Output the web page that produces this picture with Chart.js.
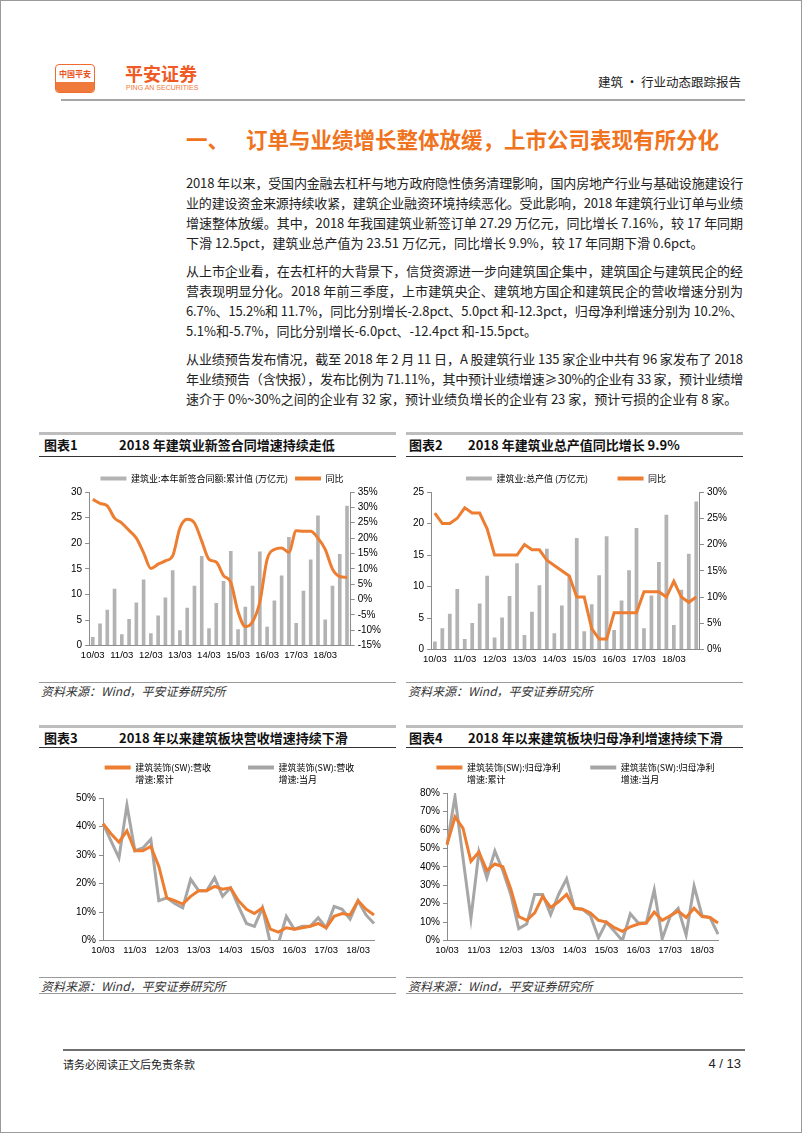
<!DOCTYPE html>
<html lang="zh-CN">
<head>
<meta charset="utf-8">
<title>建筑·行业动态跟踪报告</title>
<script src="https://cdn.jsdelivr.net/npm/chart.js@4.4.1/dist/chart.umd.min.js"></script>
<style>
  html, body { margin: 0; padding: 0; background: #fff; }
  body { font-family: "Noto Sans CJK SC", sans-serif; color: #222; }
  #page { position: relative; width: 802px; height: 1133px; box-sizing: border-box; border: 1px solid #9a9a9a; overflow: hidden; }
  .abs { position: absolute; }
  .para { position: absolute; left: 185px; width: 557px; font-size: 13px; line-height: 20px; color: #222; }
  .ln { height: 20px; white-space: nowrap; }
  .fig-top { position: absolute; height: 3px; background: #bdbdbd; }
  .fig-bot { position: absolute; height: 1px; background: #333; }
  .fig-no, .fig-name { position: absolute; font-size: 13px; font-weight: bold; line-height: 16px; color: #111; }
  .src-line { position: absolute; height: 1px; background: #9a9a9a; }
  .src { position: absolute; font-size: 12px; font-style: italic; color: #333; line-height: 14px; }
  .box { position: absolute; }
</style>
</head>
<body>
<div id="page">
  <!-- 页眉 -->
  <div class="abs" style="left:54px;top:63px;width:38px;height:27px;border:1px solid #ef6b2e;border-radius:4px;background:#fff;overflow:hidden">
    <div style="height:17px;line-height:17px;text-align:center;font-size:8px;color:#e8541e;font-weight:bold">中国平安</div>
    <div style="height:10px;background:#f07a3c"></div>
  </div>
  <div class="abs" style="left:124px;top:60px;font-size:18px;font-weight:bold;color:#f05a24;line-height:24px">平安证券</div>
  <div class="abs" style="left:125px;top:83px;font-size:7px;color:#f07a3c;line-height:8px;font-family:'Liberation Sans',sans-serif">PING AN SECURITIES</div>
  <div class="abs" style="right:60px;top:73px;font-size:12.5px;color:#222;line-height:16px">建筑 · 行业动态跟踪报告</div>
  <div class="abs" style="left:60px;top:98px;width:684px;height:2px;background:#a6a6a6"></div>

  <!-- 标题 -->
  <div class="abs" style="left:185px;top:125px;font-size:21.5px;font-weight:bold;color:#f07320;line-height:26px">一、</div>
  <div class="abs" style="left:245px;top:125px;font-size:21.5px;font-weight:bold;color:#f07320;line-height:26px">订单与业绩增长整体放缓，上市公司表现有所分化</div>

  <div class="para" style="top:172px">
    <div class="ln"><span>2018 年以来，受国内金融去杠杆与地方政府隐性债务清理影响，国内房地产行业与基础设施建设行</span></div>
    <div class="ln"><span>业的建设资金来源持续收紧，建筑企业融资环境持续恶化。受此影响，2018 年建筑行业订单与业绩</span></div>
    <div class="ln"><span>增速整体放缓。其中，2018 年我国建筑业新签订单 27.29 万亿元，同比增长 7.16%，较 17 年同期</span></div>
    <div class="ln last"><span>下滑 12.5pct，建筑业总产值为 23.51 万亿元，同比增长 9.9%，较 17 年同期下滑 0.6pct。</span></div>
  </div>
  <div class="para" style="top:260px">
    <div class="ln"><span>从上市企业看，在去杠杆的大背景下，信贷资源进一步向建筑国企集中，建筑国企与建筑民企的经</span></div>
    <div class="ln"><span>营表现明显分化。2018 年前三季度，上市建筑央企、建筑地方国企和建筑民企的营收增速分别为</span></div>
    <div class="ln"><span>6.7%、15.2%和 11.7%，同比分别增长-2.8pct、5.0pct 和-12.3pct，归母净利增速分别为 10.2%、</span></div>
    <div class="ln last"><span>5.1%和-5.7%，同比分别增长-6.0pct、-12.4pct 和-15.5pct。</span></div>
  </div>
  <div class="para" style="top:348px">
    <div class="ln"><span>从业绩预告发布情况，截至 2018 年 2 月 11 日，A 股建筑行业 135 家企业中共有 96 家发布了 2018</span></div>
    <div class="ln"><span>年业绩预告（含快报），发布比例为 71.11%，其中预计业绩增速≥30%的企业有 33 家，预计业绩增</span></div>
    <div class="ln last"><span>速介于 0%~30%之间的企业有 32 家，预计业绩负增长的企业有 23 家，预计亏损的企业有 8 家。</span></div>
  </div>

  <!-- 图表1 / 图表2 -->
  <div class="fig-top" style="left:38px;top:431px;width:357px"></div>
  <div class="fig-no" style="left:43px;top:436px">图表1</div>
  <div class="fig-name" style="left:118px;top:436px">2018 年建筑业新签合同增速持续走低</div>
  <div class="fig-bot" style="left:38px;top:455px;width:357px"></div>
  <div class="box" style="left:40px;top:466px;width:355px;height:198px"><canvas id="chart1"></canvas></div>
  <div class="src-line" style="left:38px;top:681px;width:357px"></div>
  <div class="src" style="left:40px;top:683px">资料来源：Wind，平安证券研究所</div>

  <div class="fig-top" style="left:405px;top:431px;width:337px"></div>
  <div class="fig-no" style="left:408px;top:436px">图表2</div>
  <div class="fig-name" style="left:467px;top:436px">2018 年建筑业总产值同比增长 9.9%</div>
  <div class="fig-bot" style="left:405px;top:455px;width:337px"></div>
  <div class="box" style="left:400px;top:466px;width:342px;height:202px"><canvas id="chart2"></canvas></div>
  <div class="src-line" style="left:405px;top:681px;width:337px"></div>
  <div class="src" style="left:407px;top:683px">资料来源：Wind，平安证券研究所</div>

  <!-- 图表3 / 图表4 -->
  <div class="fig-top" style="left:38px;top:724px;width:357px"></div>
  <div class="fig-no" style="left:43px;top:729px">图表3</div>
  <div class="fig-name" style="left:118px;top:729px">2018 年以来建筑板块营收增速持续下滑</div>
  <div class="fig-bot" style="left:38px;top:746px;width:357px"></div>
  <div class="box" style="left:40px;top:752px;width:355px;height:207px"><canvas id="chart3"></canvas></div>
  <div class="src-line" style="left:38px;top:976px;width:357px"></div>
  <div class="src" style="left:40px;top:978px">资料来源：Wind，平安证券研究所</div>
  <div class="src-line" style="left:38px;top:992px;width:357px"></div>

  <div class="fig-top" style="left:405px;top:724px;width:337px"></div>
  <div class="fig-no" style="left:408px;top:729px">图表4</div>
  <div class="fig-name" style="left:467px;top:729px">2018 年以来建筑板块归母净利增速持续下滑</div>
  <div class="fig-bot" style="left:405px;top:746px;width:337px"></div>
  <div class="box" style="left:400px;top:752px;width:342px;height:207px"><canvas id="chart4"></canvas></div>
  <div class="src-line" style="left:405px;top:976px;width:337px"></div>
  <div class="src" style="left:407px;top:978px">资料来源：Wind，平安证券研究所</div>
  <div class="src-line" style="left:405px;top:992px;width:337px"></div>

  <!-- 页脚 -->
  <div class="abs" style="left:62px;top:1048px;width:682px;height:2px;background:#707070"></div>
  <div class="abs" style="left:62px;top:1056px;font-size:11px;color:#222;line-height:14px">请务必阅读正文后免责条款</div>
  <div class="abs" style="right:60px;top:1055px;font-size:13px;color:#222;line-height:16px;font-family:'Liberation Sans',sans-serif">4 / 13</div>
</div>

<script>
// 季度（10/03 ~ 18/12）
var quarters = ['10/03','10/06','10/09','10/12','11/03','11/06','11/09','11/12',
  '12/03','12/06','12/09','12/12','13/03','13/06','13/09','13/12',
  '14/03','14/06','14/09','14/12','15/03','15/06','15/09','15/12',
  '16/03','16/06','16/09','16/12','17/03','17/06','17/09','17/12',
  '18/03','18/06','18/09','18/12'];
// 图3、图4 只到 18/09
var growthQuarters = quarters.slice(0, 35);

// 图表1：新签合同额累计值(万亿元) 与 同比(%)
var contractValue = [1.7,4.3,7.0,11.1, 2.2,5.2,8.4,12.9, 2.4,5.9,9.4,14.7, 3.0,7.4,11.7,17.5,
  3.4,8.3,12.6,18.5, 3.2,7.6,11.7,18.4, 3.7,8.8,13.7,21.2, 4.4,10.7,16.8,25.4, 5.1,11.7,17.9,27.3];
var contractYoy = [32.6,31.3,30.5,26.5, 24.9,22.5,20.0,15.2, 10.1,11.5,12.6,14.2, 23.3,26.1,24.9,19.0,
  13.1,12.2,7.8,5.6, -4.0,-8.8,-7.2,-0.8, 13.1,16.3,16.8,15.4, 22.4,22.2,22.2,20.0, 16.3,9.9,7.5,7.2];

// 图表2：总产值(万亿元) 与 同比(%)
var outputValue = [1.3,3.4,5.7,9.6, 1.7,4.2,7.3,11.7, 1.9,5.1,8.5,13.7, 2.3,6.0,10.2,16.0,
  2.6,7.0,11.5,17.7, 2.9,7.2,11.8,18.0, 3.1,7.8,12.6,19.3, 3.4,8.6,13.9,21.4, 3.9,9.5,15.2,23.5];
var outputYoy = [26,24,24,25, 27,26,26,23, 18,18,18,18, 20,19,19,17,
  16,15,14,10, 10,4,2,2, 7,7,7,7, 11,11,11,10, 13,10,9,10];

// 图表3：建筑装饰(SW) 营收增速(%)
var revenueCum = [41,37.5,34.5,38.5, 31.5,31.5,33,26, 15,14,12.8,15.5, 17.5,17.5,19,18,
  18.5,14,11,9.5, 11.5,4,3,4.5, 4,4.5,5,6, 4.5,8.5,9.5,9, 14,11,9];
var revenueQtr = [41,35,29,47.5, 31.5,32.5,35.5,14, 15,13,11.5,21.5, 17.5,17.5,22,15.5,
  18.5,12,6,5, 11.5,-1,-1,8.5, 4,5,5,8, 4.5,12,11,7.5, 14,9,6];

// 图表4：建筑装饰(SW) 归母净利增速(%)
var profitCum = [52,67,61,43, 48,38,41.5,40, 28,13,11,15, 24,18,21,25,
  17.5,17,15,11, 10,7,5,7.5, 9,9.5,15.5,11, 13.5,16,12.5,17.5, 13,12.5,9.5];
var profitQtr = [52,78,45,12, 48,34,48.5,38, 25,6.5,9,25, 25,14,25,33.5,
  17.5,17,13.5,1.5, 10,5,0,14.5, 9.5,9.5,27.5,1, 13,17.5,3,29.5, 13.5,12.5,3.5];

var ORANGE = '#ed7d31';
var BAR_GRAY = '#b3b3b3';
var LINE_GRAY = '#a6a6a6';
var AXIS = '#8c8c8c';

Chart.defaults.font.family = '"Liberation Sans", Arial, "Noto Sans CJK SC", sans-serif';
Chart.defaults.font.size = 10;
Chart.defaults.color = '#000';
Chart.defaults.animation = false;

var LEGEND_FONT = { size: 9, family: '"Noto Sans CJK SC", "Liberation Sans", sans-serif' };
var SWATCH_W = 26;

// 调整图例高度、水平位置，并绘制图例第二行文字
var legendTweak = {
  id: 'legendTweak',
  beforeInit: function (chart, args, opts) {
    var legend = chart.legend;
    if (!legend) return;
    var fit = legend.fit;
    legend.fit = function () {
      fit.call(this);
      if (opts.height) this.height = opts.height;
    };
  },
  afterLayout: function (chart, args, opts) {
    if (chart.legend && opts.shift) {
      chart.legend.left += opts.shift;
      chart.legend.right += opts.shift;
    }
  },
  afterDraw: function (chart, args, opts) {
    if (!opts.second || !chart.legend) return;
    var boxes = chart.legend.legendHitBoxes || [];
    var ctx = chart.ctx;
    ctx.save();
    ctx.font = LEGEND_FONT.size + 'px ' + LEGEND_FONT.family;
    ctx.fillStyle = '#000';
    ctx.textAlign = 'left';
    ctx.textBaseline = 'middle';
    boxes.forEach(function (hb, i) {
      if (opts.second[i]) ctx.fillText(opts.second[i], hb.left + SWATCH_W + LEGEND_FONT.size / 2, hb.top + hb.height / 2 + 12);
    });
    ctx.restore();
  }
};

function everyYear(value, index) {
  return index % 4 === 0 ? this.getLabelForValue(value) : '';
}

function pct(v) { return v + '%'; }

function legendOpts(padding, items) {
  return {
    position: 'top',
    labels: {
      boxWidth: SWATCH_W,
      boxHeight: 4,
      padding: padding,
      font: LEGEND_FONT,
      generateLabels: function () { return items; }
    }
  };
}

function legendItem(text, color, idx) {
  return { text: text, strokeStyle: color, fillStyle: color,
    lineWidth: 0, datasetIndex: idx, hidden: false, fontColor: '#000' };
}

function yAxis(pos, min, max, step, cb) {
  return {
    position: pos, min: min, max: max,
    grid: { drawOnChartArea: false, drawTicks: true, tickLength: 4, color: AXIS },
    border: { display: true, color: AXIS },
    ticks: { padding: 3, stepSize: step, callback: cb || undefined }
  };
}

function xAxis(offset) {
  return {
    offset: offset,
    grid: { display: false, drawTicks: false },
    border: { display: true, color: AXIS },
    ticks: { autoSkip: false, maxRotation: 0, padding: 4, font: { size: 9.5 }, callback: everyYear }
  };
}

// 图表1
new Chart(document.getElementById('chart1'), {
  type: 'bar',
  data: {
    labels: quarters,
    datasets: [
      { type: 'bar', label: '建筑业:本年新签合同额:累计值 (万亿元)', data: contractValue, backgroundColor: BAR_GRAY,
        yAxisID: 'y', categoryPercentage: 0.5, barPercentage: 1, order: 1 },
      { type: 'line', label: '同比', data: contractYoy, borderColor: ORANGE, backgroundColor: ORANGE,
        borderWidth: 3, pointRadius: 0, cubicInterpolationMode: 'monotone', yAxisID: 'y1', order: 0 }
    ]
  },
  options: {
    responsive: true, maintainAspectRatio: false,
    layout: { padding: { left: 27, right: 12, top: 0, bottom: 0 } },
    plugins: {
      legend: legendOpts(7, [
        legendItem('建筑业:本年新签合同额:累计值 (万亿元)', BAR_GRAY, 0),
        legendItem('同比', ORANGE, 1)
      ]),
      legendTweak: { height: 25, shift: -4 },
      tooltip: { enabled: false }
    },
    scales: {
      x: xAxis(true),
      y: yAxis('left', 0, 30, 5),
      y1: yAxis('right', -15, 35, 5, pct)
    }
  },
  plugins: [legendTweak]
});

// 图表2
new Chart(document.getElementById('chart2'), {
  type: 'bar',
  data: {
    labels: quarters,
    datasets: [
      { type: 'bar', label: '建筑业:总产值 (万亿元)', data: outputValue, backgroundColor: BAR_GRAY,
        yAxisID: 'y', categoryPercentage: 0.5, barPercentage: 1, order: 1 },
      { type: 'line', label: '同比', data: outputYoy, borderColor: ORANGE, backgroundColor: ORANGE,
        borderWidth: 3, pointRadius: 0, tension: 0, yAxisID: 'y1', order: 0 }
    ]
  },
  options: {
    responsive: true, maintainAspectRatio: false,
    layout: { padding: { left: 9, right: 13, top: 0, bottom: 0 } },
    plugins: {
      legend: legendOpts(7, [
        legendItem('建筑业:总产值 (万亿元)\u2003\u2003\u2002', BAR_GRAY, 0),
        legendItem('同比', ORANGE, 1)
      ]),
      legendTweak: { height: 25, shift: -4 },
      tooltip: { enabled: false }
    },
    scales: {
      x: xAxis(true),
      y: yAxis('left', 0, 25, 5),
      y1: yAxis('right', 0, 30, 5, pct)
    }
  },
  plugins: [legendTweak]
});

// 图表3
new Chart(document.getElementById('chart3'), {
  type: 'line',
  data: {
    labels: growthQuarters,
    datasets: [
      { label: '建筑装饰(SW):营收增速:累计', data: revenueCum, borderColor: ORANGE, backgroundColor: ORANGE,
        borderWidth: 3, pointRadius: 0, tension: 0 },
      { label: '建筑装饰(SW):营收增速:当月', data: revenueQtr, borderColor: LINE_GRAY, backgroundColor: LINE_GRAY,
        borderWidth: 3, pointRadius: 0, tension: 0 }
    ]
  },
  options: {
    responsive: true, maintainAspectRatio: false,
    layout: { padding: { left: 32, right: 22, top: 0, bottom: 0 } },
    plugins: {
      legend: legendOpts(10, [
        legendItem('建筑装饰(SW):营收\u2003\u2003\u2003', ORANGE, 0),
        legendItem('建筑装饰(SW):营收', LINE_GRAY, 1)
      ]),
      legendTweak: { height: 45, shift: 6, second: ['增速:累计', '增速:当月'] },
      tooltip: { enabled: false }
    },
    scales: {
      x: xAxis(false),
      y: yAxis('left', 0, 50, 5, pct)
    }
  },
  plugins: [legendTweak]
});

// 图表4
new Chart(document.getElementById('chart4'), {
  type: 'line',
  data: {
    labels: growthQuarters,
    datasets: [
      { label: '建筑装饰(SW):归母净利增速:累计', data: profitCum, borderColor: ORANGE, backgroundColor: ORANGE,
        borderWidth: 3, pointRadius: 0, tension: 0 },
      { label: '建筑装饰(SW):归母净利增速:当月', data: profitQtr, borderColor: LINE_GRAY, backgroundColor: LINE_GRAY,
        borderWidth: 3, pointRadius: 0, tension: 0 }
    ]
  },
  options: {
    responsive: true, maintainAspectRatio: false,
    layout: { padding: { left: 16, right: 25, top: 3, bottom: 0 } },
    plugins: {
      legend: legendOpts(7, [
        legendItem('建筑装饰(SW):归母净利\u2003\u2003\u2002', ORANGE, 0),
        legendItem('建筑装饰(SW):归母净利', LINE_GRAY, 1)
      ]),
      legendTweak: { height: 37, shift: 8, second: ['增速:累计', '增速:当月'] },
      tooltip: { enabled: false }
    },
    scales: {
      x: xAxis(false),
      y: yAxis('left', 0, 80, 10, pct)
    }
  },
  plugins: [legendTweak]
});

// 正文两端对齐
function justifyLines() {
  var lines = document.querySelectorAll('.para .ln');
  lines.forEach(function (ln) {
    var span = ln.firstElementChild;
    span.style.letterSpacing = '0px';
    if (ln.classList.contains('last')) return;
    var w = span.getBoundingClientRect().width;
    var n = Array.from(span.textContent).length;
    span.style.letterSpacing = ((557 - w) / n) + 'px';
  });
}
justifyLines();
if (document.fonts && document.fonts.ready) document.fonts.ready.then(justifyLines);
</script>
</body>
</html>
